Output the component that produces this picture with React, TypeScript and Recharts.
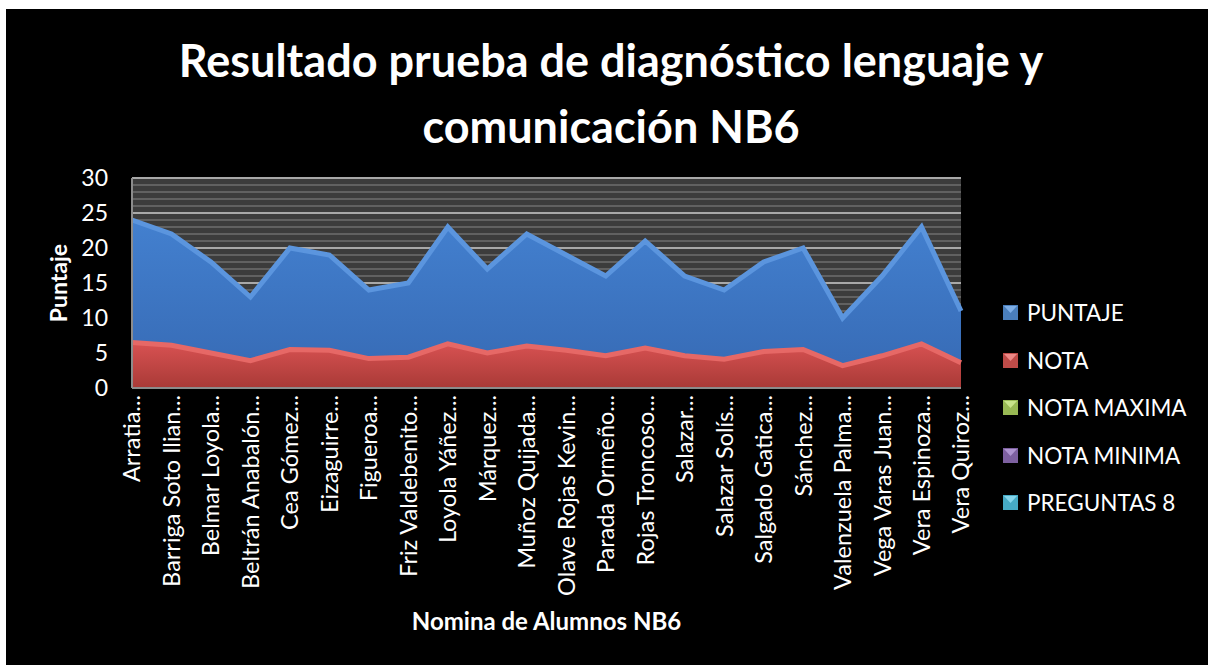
import { AreaChart, Area, XAxis, YAxis, CartesianGrid, Label } from "recharts"

const alumnos = [
  "Arratia...",
  "Barriga Soto Ilian...",
  "Belmar Loyola...",
  "Beltrán Anabalón...",
  "Cea Gómez...",
  "Eizaguirre...",
  "Figueroa...",
  "Friz Valdebenito...",
  "Loyola Yáñez...",
  "Márquez...",
  "Muñoz Quijada...",
  "Olave Rojas Kevin...",
  "Parada Ormeño...",
  "Rojas Troncoso...",
  "Salazar...",
  "Salazar Solís...",
  "Salgado Gatica...",
  "Sánchez...",
  "Valenzuela Palma...",
  "Vega Varas Juan...",
  "Vera Espinoza...",
  "Vera Quiroz...",
]
const puntaje = [24, 22, 18, 13, 20, 19, 14, 15, 23, 17, 22, 19, 16, 21, 16, 14, 18, 20, 10, 16, 23, 11]
const nota = [6.5, 6.1, 5.0, 3.9, 5.5, 5.4, 4.2, 4.4, 6.3, 5.0, 6.0, 5.4, 4.6, 5.7, 4.6, 4.1, 5.2, 5.5, 3.2, 4.6, 6.3, 3.6]

const yTicks = [0, 5, 10, 15, 20, 25, 30]
const minorLines = Array.from({ length: 31 }, (_, i) => i)

const series = [
  { name: "PUNTAJE", color: "#4a7ebb", light: "#7eaee6" },
  { name: "NOTA", color: "#be4b48", light: "#ec8886" },
  { name: "NOTA MAXIMA", color: "#98b954", light: "#c8e38a" },
  { name: "NOTA MINIMA", color: "#7d60a0", light: "#ae94d0" },
  { name: "PREGUNTAS 8", color: "#46aac5", light: "#86d6ec" },
]

const data = alumnos.map((name, i) => ({ name, puntaje: puntaje[i], nota: nota[i] }))

const font = "Lato, 'Open Sans', sans-serif"

function NameTick({ x, y, payload }: any) {
  return (
    <g transform={`translate(${x},${y})`}>
      <text
        transform="rotate(-90)"
        x={-5}
        y={0}
        dy="0.36em"
        textAnchor="end"
        fill="#fff"
        fontSize={23.5}
        fontFamily={font}
      >
        {payload.value}
      </text>
    </g>
  )
}

function LegendIcon({ color, light }: { color: string; light: string }) {
  return (
    <svg width={15} height={15} style={{ display: "block" }}>
      <rect x={0} y={0} width={15} height={15} fill={color} />
      <polygon points="1,1 14,1 7.5,8" fill={light} />
      <rect x={0.5} y={0.5} width={14} height={14} fill="none" stroke={color} />
    </svg>
  )
}

export default function App() {
  return (
    <div style={{ position: "relative", width: 1208, height: 665, background: "#fff", fontFamily: font }}>
      <style>{`body{margin:0}`}</style>
      <div style={{ position: "absolute", left: 6, top: 9, width: 1202, height: 656, background: "#000" }}>
        <div
          style={{
            position: "absolute",
            left: 0,
            top: 18,
            width: 1210,
            textAlign: "center",
            color: "#fff",
            fontWeight: 700,
            fontSize: 45,
            lineHeight: "66px",
          }}
        >
          Resultado prueba de diagnóstico lenguaje y
          <br />
          comunicación NB6
        </div>
        <AreaChart
          width={1202}
          height={656}
          data={data}
          margin={{ top: 169, right: 247, left: 36, bottom: 0 }}
          style={{ position: "absolute", left: 0, top: 0 }}
        >
          <defs>
            <linearGradient id="gBlue" x1="0" y1="0" x2="0" y2="1">
              <stop offset="0%" stopColor="#4380cf" />
              <stop offset="100%" stopColor="#3669b3" />
            </linearGradient>
            <linearGradient id="gRed" x1="0" y1="0" x2="0" y2="1">
              <stop offset="0%" stopColor="#d85252" />
              <stop offset="100%" stopColor="#a93a37" />
            </linearGradient>
          </defs>
          <CartesianGrid
            vertical={false}
            horizontalValues={minorLines}
            stroke="#6e6e6e"
            strokeWidth={1.5}
            fill="#3c3c3c"
          />
          <CartesianGrid vertical={false} horizontalValues={yTicks} stroke="#a8a8a8" strokeWidth={2} />
          <XAxis
            dataKey="name"
            interval={0}
            tickLine={false}
            tickSize={0}
            axisLine={{ stroke: "#8c8c8c", strokeWidth: 2 }}
            tick={<NameTick />}
            height={277}
          >
            <Label
              content={({ viewBox }: any) => (
                <text
                  x={viewBox.x + viewBox.width / 2}
                  y={viewBox.y + 242}
                  textAnchor="middle"
                  fill="#fff"
                  fontSize={24}
                  fontWeight={700}
                  fontFamily={font}
                >
                  Nomina de Alumnos NB6
                </text>
              )}
            />
          </XAxis>
          <YAxis
            domain={[0, 30]}
            ticks={yTicks}
            interval={0}
            width={90}
            tickLine={false}
            tickSize={0}
            tickMargin={24}
            axisLine={{ stroke: "#8c8c8c", strokeWidth: 2 }}
            tick={{ fill: "#fff", fontSize: 23, fontFamily: font }}
          >
            <Label
              content={({ viewBox }: any) => {
                const cx = viewBox.x + 16
                const cy = viewBox.y + viewBox.height / 2
                return (
                  <text
                    x={cx}
                    y={cy}
                    transform={`rotate(-90 ${cx} ${cy})`}
                    textAnchor="middle"
                    dominantBaseline="central"
                    fill="#fff"
                    fontSize={23}
                    fontWeight={700}
                    fontFamily={font}
                  >
                    Puntaje
                  </text>
                )
              }}
            />
          </YAxis>
          <Area
            type="linear"
            dataKey="puntaje"
            name="PUNTAJE"
            fill="url(#gBlue)"
            fillOpacity={1}
            stroke="#5b95de"
            strokeWidth={5}
            isAnimationActive={false}
          />
          <Area
            type="linear"
            dataKey="nota"
            name="NOTA"
            fill="url(#gRed)"
            fillOpacity={1}
            stroke="#e66866"
            strokeWidth={5}
            isAnimationActive={false}
          />
        </AreaChart>
        <div style={{ position: "absolute", left: 997, top: 280 }}>
          {series.map((s) => (
            <div key={s.name} style={{ display: "flex", alignItems: "center", height: 47.5 }}>
              <LegendIcon color={s.color} light={s.light} />
              <span style={{ marginLeft: 9, color: "#fff", fontSize: 22.5, whiteSpace: "nowrap" }}>{s.name}</span>
            </div>
          ))}
        </div>
      </div>
    </div>
  )
}
